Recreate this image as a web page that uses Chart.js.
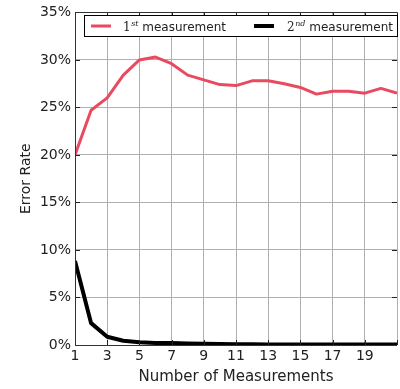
<!DOCTYPE html>
<html>
<head>
<meta charset="utf-8">
<script src="https://cdn.jsdelivr.net/npm/chart.js@4"></script>
<style>
html,body{margin:0;padding:0;background:#fff;}
#c{display:block;}
</style>
</head>
<body>
<canvas id="c" width="400" height="389"></canvas>
<script>
const measurements = [1,2,3,4,5,6,7,8,9,10,11,12,13,14,15,16,17,18,19,20,21];
const firstMeasurement = [20.0, 24.7, 26.0, 28.4, 30.0, 30.3, 29.6, 28.4, 27.9, 27.4, 27.3, 27.8, 27.8, 27.5, 27.1, 26.4, 26.7, 26.7, 26.5, 27.0, 26.5];
const secondMeasurement = [8.85, 2.3, 0.87, 0.45, 0.3, 0.22, 0.2, 0.15, 0.12, 0.1, 0.08, 0.07, 0.06, 0.06, 0.05, 0.05, 0.05, 0.04, 0.04, 0.04, 0.04];
const yTicks = [0, 5, 10, 15, 20, 25, 30, 35];
const xTicks = [1, 3, 5, 7, 9, 11, 13, 15, 17, 19, 21];
const seriesNames = [["1", "st", " measurement"], ["2", "nd", " measurement"]];

const RED = 'rgb(232,74,95)';
const BLACK = '#000';
const FONT = "'DejaVu Sans', sans-serif";

const framePlugin = {
  id: 'frame',
  afterDatasetsDraw(chart) {
    const ctx = chart.ctx;
    const a = chart.chartArea;
    const xs = chart.scales.x, ys = chart.scales.y;
    ctx.save();
    ctx.strokeStyle = '#222';
    ctx.lineWidth = 1;
    ctx.beginPath();
    xTicks.forEach(v => {
      const px = Math.round(xs.getPixelForValue(v)) + 0.5;
      ctx.moveTo(px, a.bottom); ctx.lineTo(px, a.bottom - 5);
      ctx.moveTo(px, a.top); ctx.lineTo(px, a.top + 5);
    });
    yTicks.forEach(v => {
      const py = Math.round(ys.getPixelForValue(v)) + 0.5;
      ctx.moveTo(a.left, py); ctx.lineTo(a.left + 5, py);
      ctx.moveTo(a.right, py); ctx.lineTo(a.right - 5, py);
    });
    ctx.stroke();
    ctx.strokeStyle = '#333';
    ctx.beginPath();
    ctx.moveTo(Math.round(a.left) + 0.5, Math.round(a.bottom) + 0.5);
    ctx.lineTo(Math.round(a.left) + 0.5, Math.round(a.top) + 0.5);
    ctx.lineTo(a.right, Math.round(a.top) + 0.5);
    ctx.moveTo(Math.round(a.left) + 0.5, Math.round(a.bottom) + 0.5);
    ctx.lineTo(a.right, Math.round(a.bottom) + 0.5);
    ctx.stroke();

    const bx = 84.5, by = 15.5, bw = 313, bh = 21;
    ctx.fillStyle = '#fff';
    ctx.fillRect(bx, by, bw, bh);
    ctx.strokeStyle = '#000';
    ctx.lineWidth = 1;
    ctx.strokeRect(bx, by, bw, bh);
    const cy = 26;
    const items = [
      {color: RED, lw: 3, x0: 91, x1: 111, tx: 123, name: seriesNames[0]},
      {color: BLACK, lw: 4, x0: 254, x1: 274, tx: 287, name: seriesNames[1]}
    ];
    items.forEach(it => {
      ctx.strokeStyle = it.color;
      ctx.lineWidth = it.lw;
      ctx.beginPath();
      ctx.moveTo(it.x0, cy); ctx.lineTo(it.x1, cy);
      ctx.stroke();
      ctx.fillStyle = '#222';
      ctx.textBaseline = 'alphabetic';
      ctx.textAlign = 'left';
      let x = it.tx;
      ctx.font = "12px 'DejaVu Serif', serif";
      ctx.fillText(it.name[0], x, cy + 4.5);
      x += ctx.measureText(it.name[0]).width + 0.5;
      ctx.font = "italic 8px 'DejaVu Serif', serif";
      ctx.fillText(it.name[1], x, cy - 0.5);
      x += ctx.measureText(it.name[1]).width;
      ctx.font = "12px " + FONT;
      ctx.fillText(it.name[2], x, cy + 4.5);
    });
    ctx.restore();
  }
};

new Chart(document.getElementById('c'), {
  type: 'line',
  data: {
    datasets: [
      {
        label: '1st measurement',
        data: measurements.map((m, i) => ({x: m, y: firstMeasurement[i]})),
        borderColor: RED,
        backgroundColor: RED,
        borderWidth: 3,
        pointRadius: 0,
        tension: 0,
        borderJoinStyle: 'round'
      },
      {
        label: '2nd measurement',
        data: measurements.map((m, i) => ({x: m, y: secondMeasurement[i]})),
        borderColor: BLACK,
        backgroundColor: BLACK,
        borderWidth: 4,
        pointRadius: 0,
        tension: 0,
        borderJoinStyle: 'round'
      }
    ]
  },
  options: {
    responsive: false,
    devicePixelRatio: 1,
    animation: false,
    events: [],
    layout: {padding: {top: 9, right: 0, left: 0, bottom: 0}},
    plugins: {legend: {display: false}, tooltip: {enabled: false}},
    scales: {
      x: {
        type: 'linear',
        min: 1, max: 21,
        afterBuildTicks: s => { s.ticks = xTicks.map(v => ({value: v})); },
        afterFit: s => { s.height = 44; },
        ticks: {
          autoSkip: false,
          maxRotation: 0,
          padding: 3,
          color: '#222',
          font: {family: FONT, size: 14},
          callback: v => (v === 21 ? '' : String(v))
        },
        grid: {color: '#b0b0b0', lineWidth: 1, drawTicks: false},
        border: {display: false},
        title: {display: true, text: 'Number of Measurements', color: '#222',
                font: {family: FONT, size: 15}, padding: {top: 0, bottom: 3}}
      },
      y: {
        min: 0, max: 35,
        afterBuildTicks: s => { s.ticks = yTicks.map(v => ({value: v})); },
        afterFit: s => { s.width = 75; },
        ticks: {
          padding: 4,
          color: '#222',
          font: {family: FONT, size: 14},
          callback: v => v + '%'
        },
        grid: {color: '#b0b0b0', lineWidth: 1, drawTicks: false},
        border: {display: false},
        title: {display: true, text: 'Error Rate', color: '#222',
                font: {family: FONT, size: 14}, padding: {top: 18, bottom: 0}}
      }
    }
  },
  plugins: [framePlugin]
});
</script>
</body>
</html>
